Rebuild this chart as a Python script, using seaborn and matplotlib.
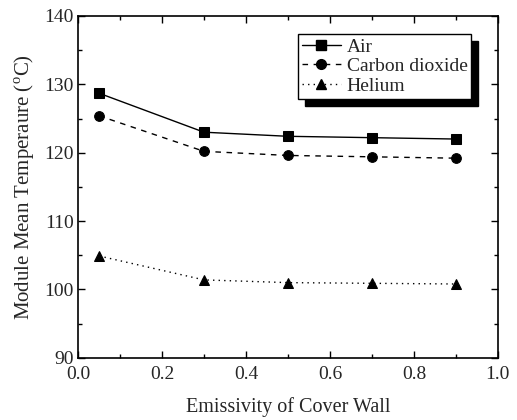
import matplotlib
matplotlib.use("Agg")
import matplotlib.pyplot as plt
import seaborn as sns
import pandas as pd
from matplotlib.ticker import MultipleLocator
from matplotlib.lines import Line2D

emissivity = [0.05, 0.3, 0.5, 0.7, 0.9]
air = [128.7, 123.0, 122.4, 122.2, 122.0]
co2 = [125.4, 120.2, 119.6, 119.4, 119.2]
helium = [104.9, 101.4, 101.0, 100.9, 100.8]
series_names = ["Air", "Carbon dioxide", "Helium"]

sns.set_style("ticks")
plt.rcParams['font.family'] = ['Liberation Serif', 'DejaVu Serif']
plt.rcParams['mathtext.fontset'] = 'custom'
plt.rcParams['mathtext.rm'] = 'Liberation Serif'

df = pd.DataFrame({
    "x": emissivity * 3,
    "y": air + co2 + helium,
    "gas": [series_names[0]] * 5 + [series_names[1]] * 5 + [series_names[2]] * 5,
})

fig = plt.figure(figsize=(5.17, 4.20), dpi=100)
ax = fig.add_axes([0.151, 0.148, 0.812, 0.814])

markers = {"Air": "s", "Carbon dioxide": "o", "Helium": "^"}
dashes = {"Air": "", "Carbon dioxide": (4, 4), "Helium": (1, 3)}
palette = {k: "black" for k in series_names}
msizes = {"Air": 6.5, "Carbon dioxide": 7, "Helium": 7.5}

for n in series_names:
    sub = df[df["gas"] == n]
    sns.lineplot(data=sub, x="x", y="y", color="black", marker=markers[n],
                 markersize=msizes[n], markeredgecolor="black",
                 linewidth=1.0, ax=ax, legend=False,
                 linestyle="-" if n == "Air" else ((0, (4, 4)) if n == "Carbon dioxide" else (0, (1, 3))))

handles = [Line2D([], [], color="black", marker=markers[n], markersize=msizes[n],
                  linestyle=ls, linewidth=1.0)
           for n, ls in zip(series_names, ["-", (0, (4, 4)), (0, (1, 3))])]
leg = ax.legend(handles, series_names, loc="upper right", bbox_to_anchor=(0.96, 0.975),
                fontsize=14, frameon=True, fancybox=False, edgecolor="black",
                handlelength=2.0, handletextpad=0.3, borderpad=0.2, labelspacing=0.1,
                shadow={"color": "black", "alpha": 1, "ox": 5, "oy": -5})
leg.get_frame().set_linewidth(1.0)

ax.set_xlim(0.0, 1.0)
ax.set_ylim(90, 140)
ax.xaxis.set_major_locator(MultipleLocator(0.2))
ax.xaxis.set_minor_locator(MultipleLocator(0.1))
ax.yaxis.set_major_locator(MultipleLocator(10))
ax.yaxis.set_minor_locator(MultipleLocator(5))
ax.tick_params(which="both", direction="in", top=True, right=True, labelsize=14, color="black")
ax.tick_params(which="major", length=5, width=1)
ax.tick_params(which="minor", length=3, width=1)
ax.tick_params(axis="x", which="both", pad=6)
ax.tick_params(axis="y", which="both", pad=3)
for s in ax.spines.values():
    s.set_linewidth(1.2)
    s.set_color("black")

ax.set_xlabel("Emissivity of Cover Wall", fontsize=14.5, labelpad=10)
ax.set_ylabel(r"Module Mean Temperaure ($^{\mathrm{o}}$C)", fontsize=15, labelpad=5)

fig.savefig("out.png", dpi=100)
